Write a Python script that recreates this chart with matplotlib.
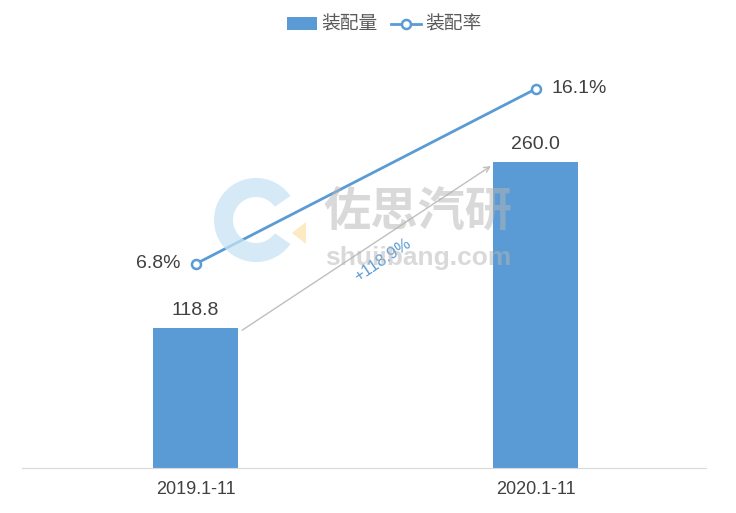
import matplotlib
matplotlib.use("Agg")
import matplotlib.pyplot as plt
from matplotlib.patches import Wedge, Polygon

categories = ["2019.1-11", "2020.1-11"]
volume = [118.8, 260.0]
rate = [6.8, 16.1]
growth_label = "+118.9%"
legend_labels = ["装配量", "装配率"]

plt.rcParams['font.family'] = ['Liberation Sans', 'Noto Sans CJK SC', 'DejaVu Sans']

fig = plt.figure(figsize=(7.36, 5.13), dpi=100)
ax = fig.add_axes([0.03, 0.0877, 0.929, 0.805])

x = list(range(len(categories)))
bar_color = '#5B9BD5'
bars = ax.bar(x, volume, width=0.25, color=bar_color, label=legend_labels[0], zorder=2)
ax.set_xlim(-0.51, 1.5)
ax.set_ylim(0, 351)
ax.set_xticks(x)
ax.set_xticklabels(categories, fontsize=13, color='#404040')
ax.tick_params(axis='x', length=0, pad=9)
ax.set_yticks([])
for s in ['top', 'left', 'right']:
    ax.spines[s].set_visible(False)
ax.spines['bottom'].set_color('#D9D9D9')
ax.patch.set_alpha(0)

for xi, v in zip(x, volume):
    ax.text(xi, v + 8, f"{v:.1f}", ha='center', va='bottom', fontsize=14, color='#404040')

# growth arrow
ax.annotate("", xy=(x[1] - 0.125, volume[1] - 2), xytext=(x[0] + 0.13, volume[0] - 3),
            arrowprops=dict(arrowstyle='->', color='#BFBFBF', lw=1), zorder=3)
ax.text(0.55, 177, growth_label, rotation=34, ha='center', va='center', fontsize=12,
        color='#5B9BD5', rotation_mode='anchor')

ax2 = ax.twinx()
ax2.set_ylim(-4.04, 17.9)
ax2.set_yticks([])
for s in ['top', 'left', 'right', 'bottom']:
    ax2.spines[s].set_visible(False)
line, = ax2.plot(x, rate, color='#5B9BD5', lw=2, marker='o', markersize=6.5,
                 markerfacecolor='white', markeredgecolor='#5B9BD5', markeredgewidth=1.8,
                 label=legend_labels[1], zorder=4)
ax2.text(x[0] - 0.045, rate[0], f"{rate[0]:.1f}%", ha='right', va='center', fontsize=14, color='#404040')
ax2.text(x[1] + 0.045, rate[1], f"{rate[1]:.1f}%", ha='left', va='center', fontsize=14, color='#404040')

# watermark (drawn over the chart, semi-transparent)
wm_ax = fig.add_axes([0, 0, 1, 1], zorder=5)
wm_ax.set_xlim(0, 736)
wm_ax.set_ylim(513, 0)
wm_ax.axis('off')
wm_ax.patch.set_alpha(0)
wm_ax.add_patch(Wedge((256, 220), 42, 35, 325, width=19, color='#C7E3F3', alpha=0.75, lw=0))
wm_ax.add_patch(Polygon([[292, 233], [306, 222], [306, 244]], closed=True, color='#FCE3AE', alpha=0.75, lw=0))
wm_ax.text(418, 212, "佐思汽研", fontsize=34, color='#B5B5B5', alpha=0.5, fontweight='bold',
           ha='center', va='center', family=['Noto Sans CJK SC'])
wm_ax.text(418, 258, "shuiibang.com", fontsize=19, color='#B5B5B5', alpha=0.5, fontweight='bold',
           ha='center', va='center', family=['Liberation Sans'])

leg = fig.legend([bars, line], legend_labels, loc='center', bbox_to_anchor=(0.522, 0.952), ncol=2,
                 frameon=False, handlelength=1.6, columnspacing=0.7, handletextpad=0.25,
                 prop={'family': ['Noto Sans CJK SC'], 'size': 13.5})
for t in leg.get_texts():
    t.set_color('#595959')

fig.savefig("out.png", dpi=100)
